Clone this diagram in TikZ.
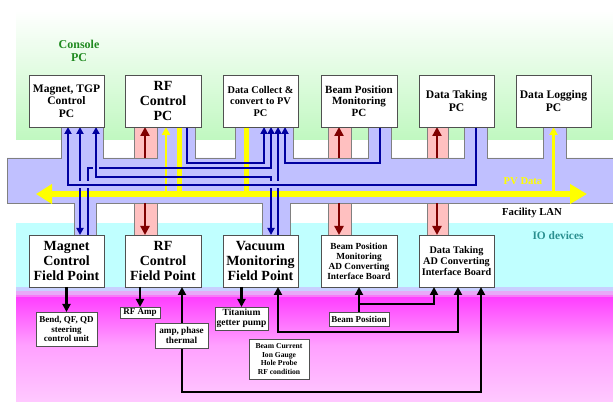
\documentclass[tikz,border=0pt]{standalone}
\usepackage{fontspec}
\setmainfont{Liberation Serif}
\usetikzlibrary{arrows.meta}
\definecolor{lav}{HTML}{C0C0FF}
\definecolor{pinkf}{HTML}{FFC0C0}
\definecolor{dred}{HTML}{800000}
\definecolor{navy}{HTML}{0000A0}
\definecolor{yel}{HTML}{FFFF00}
\definecolor{boxc}{HTML}{505050}
\definecolor{edgec}{HTML}{808080}
\definecolor{grtext}{HTML}{208A20}
\definecolor{tealtext}{HTML}{2A9090}
\definecolor{greenbg}{HTML}{C0F8C0}
\definecolor{cyanbg}{HTML}{C0FFFF}
\definecolor{bandA}{HTML}{C8D0FF}
\definecolor{bandB}{HTML}{E8A8F8}
\definecolor{bandC}{HTML}{F878F8}
\definecolor{magA}{HTML}{FF40FF}
\definecolor{magB}{HTML}{FFA0FF}
\definecolor{magC}{HTML}{FFC8FF}
\tikzset{
  box/.style={draw=boxc, fill=white, line width=0.8pt, inner sep=0pt, outer sep=0pt, align=center},
  pcbox/.style={box, minimum width=75pt, minimum height=52pt},
  lbox/.style={box},
  nv/.style={draw=navy, line width=2.2pt},
  ntip/.tip={Triangle[length=7pt,width=7pt]},
  blk/.style={draw=black, line width=2.7pt},
  btip/.tip={Triangle[length=8pt,width=8pt]},
  rdl/.style={draw=dred, line width=2.6pt},
  rtip/.tip={Triangle[length=9pt,width=9pt]},
  yl/.style={draw=yel, line width=5pt},
  ylthin/.style={draw=yel, line width=2.2pt},
  ytip/.tip={Triangle[length=8pt,width=8pt]},
  stubbox/.style={draw=edgec, line width=0.8pt, fill=pinkf},
}
\begin{document}
\begin{tikzpicture}[x=1pt,y=-1pt]
\useasboundingbox (0,0) rectangle (613,403);
\fill[white] (0,0) rectangle (613,403);
% backgrounds
\shade[top color=white, bottom color=greenbg] (16,10) rectangle (613,140);
\fill[cyanbg] (16,223) rectangle (613,287);
\fill[bandA] (16,287) rectangle (613,291);
\fill[bandB] (16,291) rectangle (613,295);
\fill[bandC] (16,295) rectangle (613,298);
\shade[top color=magA, bottom color=magB] (16,298) rectangle (613,345);
\shade[top color=magB, bottom color=magC] (16,345) rectangle (613,401);

% LAN shape
\draw[fill=lav, draw=edgec, line width=0.8pt]
 (7,158) -- (61,158) -- (61,127) -- (103,127) -- (103,158)
 -- (157,158) -- (157,127) -- (195,127) -- (195,158)
 -- (235,158) -- (235,127) -- (293,127) -- (293,158)
 -- (368,158) -- (368,127) -- (391,127) -- (391,158)
 -- (464,158) -- (464,127) -- (487,127) -- (487,158)
 -- (543,158) -- (543,127) -- (566,127) -- (566,158)
 -- (616,158) -- (616,203)
 -- (290,203) -- (290,235) -- (262,235) -- (262,203)
 -- (96,203) -- (96,235) -- (74,235) -- (74,203)
 -- (7,203) -- cycle;

% pink stubs
\draw[stubbox] (134,127) rectangle (157,158);
\draw[stubbox] (328,127) rectangle (351,158);
\draw[stubbox] (427,127) rectangle (448,158);
\draw[stubbox] (134,203) rectangle (157,235);
\draw[stubbox] (328,203) rectangle (351,235);
\draw[stubbox] (427,203) rectangle (448,235);

% nodes: console PCs
\node[pcbox, font=\bfseries\fontsize{11.5}{12.7}\selectfont] (mpc) at (66.5,101) {Magnet, TGP\\Control\\PC};
\node[pcbox, minimum width=76pt, font=\bfseries\fontsize{14}{15}\selectfont] (rfpc) at (163,101) {RF\\Control\\PC};
\node[pcbox, font=\bfseries\fontsize{10.3}{11.5}\selectfont] (dcpc) at (260.5,101) {Data Collect \&\\convert to PV\\PC};
\node[pcbox, minimum width=76pt, font=\bfseries\fontsize{11}{11.6}\selectfont] (bpmpc) at (359,101) {Beam Position\\Monitoring\\PC};
\node[pcbox, font=\bfseries\fontsize{11.6}{13}\selectfont] (dtpc) at (456.5,101) {Data Taking\\PC};
\node[pcbox, font=\bfseries\fontsize{11.6}{13}\selectfont] (dlpc) at (553.5,101) {Data Logging\\PC};

% IO devices
\node[pcbox, font=\bfseries\fontsize{14}{15}\selectfont] (mfp) at (66.5,261) {Magnet\\Control\\Field Point};
\node[pcbox, minimum width=76pt, font=\bfseries\fontsize{14}{15}\selectfont] (rffp) at (163,261) {RF\\Control\\Field Point};
\node[pcbox, font=\bfseries\fontsize{14}{15}\selectfont] (vfp) at (260.5,261) {Vacuum\\Monitoring\\Field Point};
\node[pcbox, minimum width=76pt, font=\bfseries\fontsize{9.3}{10}\selectfont] (bpmad) at (359,261) {Beam Position\\Monitoring\\AD Converting\\Interface Board};
\node[pcbox, font=\bfseries\fontsize{10.2}{11}\selectfont] (dtad) at (456.5,261) {Data Taking\\AD Converting\\Interface Board};

% yellow PV data lines
\coordinate (pvL) at (36,194);
\coordinate (pvR) at (587,194);
\draw[yl] ([xshift=16]rfpc.south) -- ++(0,67);
\draw[yl] ([xshift=-14.5]dcpc.south) -- ++(0,67);
\draw[ylthin, -ytip] ([xshift=3,yshift=-67]rfpc.south) -- ([xshift=3]rfpc.south);
\draw[ylthin, -ytip] ([yshift=-67]dlpc.south) -- (dlpc.south);
\draw[draw=yel, line width=6pt, {Triangle[length=16pt,width=19pt]}-{Triangle[length=17pt,width=19pt]}] (pvL) -- (pvR);

% red arrows in pink stubs
\draw[rdl, -rtip] ([xshift=-18,yshift=-31]rfpc.south) -- ([xshift=-18]rfpc.south);
\draw[rdl, -rtip] ([xshift=-20,yshift=-31]bpmpc.south) -- ([xshift=-20]bpmpc.south);
\draw[rdl, -rtip] ([xshift=-19.5,yshift=-31]dtpc.south) -- ([xshift=-19.5]dtpc.south);
\draw[rdl, -rtip] ([xshift=-18,yshift=32]rffp.north) -- ([xshift=-18]rffp.north);
\draw[rdl, -rtip] ([xshift=-20,yshift=32]bpmad.north) -- ([xshift=-20]bpmad.north);
\draw[rdl, -rtip] ([xshift=-19.5,yshift=32]dtad.north) -- ([xshift=-19.5]dtad.north);

% blue data lines
\draw[nv, ntip-ntip] ([xshift=13.5]mpc.south) -- ([xshift=13.5]mfp.north);
\draw[nv, -ntip] ([xshift=17.5]vfp.north) -- ([xshift=17.5]dcpc.south);
\draw[nv, -ntip] ([xshift=21.5]mfp.north) -- ++(0,-67) -| ([xshift=10.5]dcpc.south);
% gap where the Magnet PC line crosses
\fill[lav] (92.6,166.3) rectangle (99.4,169.7);
\draw[nv, ntip-ntip] ([xshift=29.5]mpc.south) -- ++(0,50) -| ([xshift=10.5]vfp.north);
\draw[nv, -ntip] ([xshift=24]rfpc.south) -- ++(0,36) -| ([xshift=3.5]dcpc.south);
\draw[nv, -ntip] ([xshift=21]bpmpc.south) -- ++(0,36) -| ([xshift=24.5]dcpc.south);
% gaps where the Data Taking line crosses
\foreach \gx in {80,88,271,278}{
  \fill[lav] (\gx-1.7,181.5) rectangle (\gx+1.7,188.5);
}
\draw[nv, -ntip] ([xshift=19.5]dtpc.south) -- ++(0,58) -| ([xshift=1.5]mpc.south);

% redraw box borders over line ends
\foreach \n in {mpc,rfpc,dcpc,bpmpc,dtpc,dlpc,mfp,rffp,vfp,bpmad,dtad}{
  \draw[boxc, line width=0.8pt] (\n.south west) rectangle (\n.north east);
}

% field-side labels
\node[lbox, minimum width=61pt, minimum height=34pt, font=\bfseries\fontsize{9}{9.4}\selectfont] (bend) at (66.5,329) {Bend, QF, QD\\steering\\control unit};
\node[lbox, minimum width=40pt, minimum height=11pt, font=\bfseries\fontsize{9}{10}\selectfont] (rfamp) at (140,312.5) {RF Amp};
\node[lbox, minimum width=53pt, minimum height=23pt, font=\bfseries\fontsize{9.5}{10.3}\selectfont] (ti) at (241.5,318.5) {Titanium\\getter pump};
\node[lbox, minimum width=60pt, minimum height=14pt, font=\bfseries\fontsize{9}{10}\selectfont] (bpos) at (359,319) {Beam Position};
\coordinate (bcj) at (278,332);
\coordinate (ampc) at (182,335.5);

% black signal lines
\draw[blk, -btip] (mfp.south) -- (bend.north);
\draw[blk, -btip] (rfamp.north |- rffp.south) -- (rfamp.north);
\draw[blk, -btip] (ti.north |- vfp.south) -- (ti.north);
\draw[blk, -btip] (ampc) -- (ampc |- rffp.south);
\draw[blk, -btip] (ampc) -- ++(0,56.5) -| ([xshift=24.5]dtad.south);
\draw[blk, btip-btip] (vfp.south -| bcj) -- (bcj) -| ([xshift=1.5]dtad.south);
\draw[blk, -btip] (bpos.north) -- (bpmad.south);
\draw[blk, -btip] ([yshift=8]bpos.north) -| ([xshift=-22.5]dtad.south);

\node[lbox, minimum width=53pt, minimum height=25pt, font=\bfseries\fontsize{9.2}{10.5}\selectfont] (amp) at (181.5,335.5) {amp, phase\\thermal};
\node[lbox, minimum width=60pt, minimum height=40pt, font=\bfseries\fontsize{7.6}{8.6}\selectfont] (bcur) at (279,359) {Beam Current\\Ion Gauge\\Hole Probe\\RF condition};

% region labels
\node[font=\bfseries\fontsize{12}{12.4}\selectfont, text=grtext, align=center] (console) at (79,51) {Console\\PC};
\node[font=\bfseries\fontsize{10.6}{12}\selectfont, text=yel] (pvdata) at (523,181) {PV Data};
\node[font=\bfseries\fontsize{10.7}{12}\selectfont] (lan) at (532,213) {Facility LAN};
\node[font=\bfseries\fontsize{11.4}{12}\selectfont, text=tealtext] (io) at (558,236) {IO devices};
\end{tikzpicture}
\end{document}
